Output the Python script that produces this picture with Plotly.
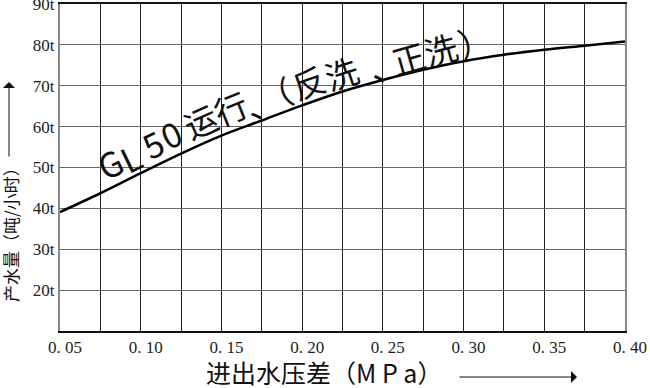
import plotly.graph_objects as go

# Data
pressure = [0.05, 0.075, 0.10, 0.125, 0.15, 0.175, 0.20, 0.225, 0.25, 0.275, 0.30, 0.325, 0.35, 0.375, 0.40]
flow = [39.1, 43.7, 48.6, 53.4, 57.8, 61.5, 65.2, 68.6, 71.4, 73.9, 76.0, 77.6, 78.8, 79.8, 80.8]

x_grid = [0.05 + 0.025 * i for i in range(15)]
x_labels = ["0. 05", "", "0. 10", "", "0. 15", "", "0. 20", "", "0. 25", "", "0. 30", "", "0. 35", "", "0. 40"]
y_ticks = [10, 20, 30, 40, 50, 60, 70, 80, 90]
y_labels = ["", "20t", "30t", "40t", "50t", "60t", "70t", "80t", "90t"]

series_label = "GL50运行、（反洗、正洗）"
x_title = "进出水压差（M P a）"
y_title = "产水量（吨/小时）"

# label set along the curve: per-character pixel centre and angle (styling only)
label_layout = [
    (109, 163, -26, 34), (130, 157, -26, 34), (152, 143, -26, 34), (170, 133, -25, 34),
    (200, 121, -24, 33), (230, 108, -22, 33), (261.6, 101.7, -21, 33), (275.4, 94.4, -20, 33),
    (308, 82, -19, 33), (341, 73, -18, 33), (385.3, 65, -17, 33), (408, 58, -16, 33),
    (440, 49, -15, 33), (474.8, 40.2, -15, 33),
]

fig = go.Figure()
fig.add_trace(go.Scatter(x=pressure, y=flow, mode="lines",
                         line=dict(color="black", width=2.5, shape="spline"),
                         showlegend=False, hoverinfo="skip"))

serif = "Liberation Serif, DejaVu Serif, serif"
cjk = "Noto Sans CJK SC, sans-serif"

L, R, T, B, W, H = 60, 25, 4, 57, 650, 388
pw, ph = W - L - R, H - T - B


def px(X):
    return (X - L) / pw


def py(Y):
    return (H - B - Y) / ph


fig.update_layout(
    width=W, height=H,
    margin=dict(l=L, r=R, t=T, b=B, autoexpand=False),
    plot_bgcolor="white", paper_bgcolor="white",
    xaxis=dict(range=[0.05, 0.40], tickvals=x_grid, ticktext=x_labels,
               showgrid=True, gridcolor="#222", gridwidth=1,
               showline=True, linecolor="#111", linewidth=1.5, mirror=True,
               ticks="", tickfont=dict(family=serif, size=17, color="#222"),
               ticklabelshift=5, ticklabeloverflow="allow", zeroline=False,
               automargin=False),
    yaxis=dict(range=[10, 90], tickvals=y_ticks, ticktext=y_labels,
               showgrid=True, gridcolor="#666", gridwidth=1.2,
               showline=True, linecolor="#888", linewidth=2, mirror=True,
               ticks="", tickfont=dict(family=serif, size=17, color="#222"),
               ticklabeloverflow="allow", zeroline=False, automargin=False),
)

# curve label, one character at a time so that it bends with the curve
for ch, (X, Y, ang, fs) in zip(series_label, label_layout):
    fig.add_annotation(x=px(X), y=py(Y), xref="paper", yref="paper",
                       text=ch, showarrow=False, textangle=ang,
                       xanchor="center", yanchor="middle",
                       font=dict(family=cjk, size=fs, color="#111"))

# x-axis title and arrow
fig.add_annotation(x=px(324), y=py(372), xref="paper", yref="paper",
                   text=x_title, showarrow=False, xanchor="center", yanchor="middle",
                   font=dict(family=cjk, size=25, color="#111"))
fig.add_annotation(x=px(577), y=py(377), xref="paper", yref="paper",
                   text="", showarrow=True, ax=-119, ay=0,
                   arrowhead=1, arrowsize=2, arrowwidth=1, arrowcolor="#111")

# y-axis title and arrow
fig.add_annotation(x=px(10), y=py(231), xref="paper", yref="paper",
                   text=y_title, showarrow=False, textangle=-90,
                   xanchor="center", yanchor="middle",
                   font=dict(family=cjk, size=17, color="#111"))
fig.add_annotation(x=px(9), y=py(82), xref="paper", yref="paper",
                   text="", showarrow=True, ax=0, ay=76,
                   arrowhead=1, arrowsize=2, arrowwidth=1, arrowcolor="#111")

fig.write_html("out.html")
